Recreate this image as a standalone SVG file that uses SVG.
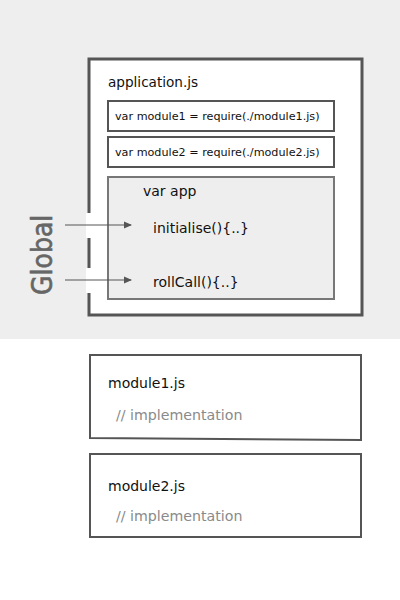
<svg xmlns="http://www.w3.org/2000/svg" width="400" height="600" viewBox="0 0 400 600">
<defs>
<style>
.t{font-family:"DejaVu Sans",sans-serif;fill:#111}
.box{fill:#fff;stroke:#555;stroke-width:2}
.cmt{font-family:"DejaVu Sans",sans-serif;fill:#8a8a8a;font-size:14.2px}
.arr{stroke:#555;stroke-width:1;fill:none}
</style>
<marker id="ah" markerWidth="8" markerHeight="8" refX="7" refY="4" orient="auto" markerUnits="userSpaceOnUse">
<path d="M0,0.5 L8,4 L0,7.5 Z" fill="#555"/>
</marker>
</defs>
<rect x="0" y="0" width="400" height="339" fill="#eee"/>
<rect x="0" y="339" width="400" height="261" fill="#fff"/>
<g id="global">
<text transform="translate(52,295) rotate(-90)" font-family="'DejaVu Sans Condensed','DejaVu Sans',sans-serif" font-size="28" fill="#666" stroke="#666" stroke-width="0.6">Global</text>
</g>
<g id="application">
<rect x="89" y="59" width="273" height="256" fill="#fff" stroke="#555" stroke-width="3"/>
<rect x="86" y="213" width="22" height="25" fill="#fff"/>
<rect x="86" y="268" width="22" height="25" fill="#fff"/>
<text class="t" x="108" y="87" font-size="13.6">application.js</text>
</g>
<g id="require1">
<rect class="box" x="108" y="101" width="226" height="30"/>
<text class="t" x="115" y="120" font-size="11.2">var module1 = require(./module1.js)</text>
</g>
<g id="require2">
<rect class="box" x="108" y="137" width="226" height="30"/>
<text class="t" x="115" y="156" font-size="11.2">var module2 = require(./module2.js)</text>
</g>
<g id="app">
<rect x="108" y="177" width="226" height="122" fill="#eee" stroke="#777" stroke-width="2"/>
<text class="t" x="143" y="196" font-size="14">var app</text>
<text class="t" x="153" y="233" font-size="14">initialise(){..}</text>
<text class="t" x="153" y="287" font-size="14">rollCall(){..}</text>
</g>
<g id="connectors">
<line class="arr" x1="65" y1="225" x2="131" y2="225" marker-end="url(#ah)"/>
<line class="arr" x1="65" y1="280" x2="131" y2="280" marker-end="url(#ah)"/>
</g>
<g id="module1">
<path class="box" d="M90,355 L361,355 L361,440 L90,438 Z"/>
<text class="t" x="108" y="388" font-size="14">module1.js</text>
<text class="cmt" x="116" y="420">// implementation</text>
</g>
<g id="module2">
<rect class="box" x="90" y="454" width="271" height="83"/>
<text class="t" x="108" y="491" font-size="14">module2.js</text>
<text class="cmt" x="116" y="521">// implementation</text>
</g>
</svg>
